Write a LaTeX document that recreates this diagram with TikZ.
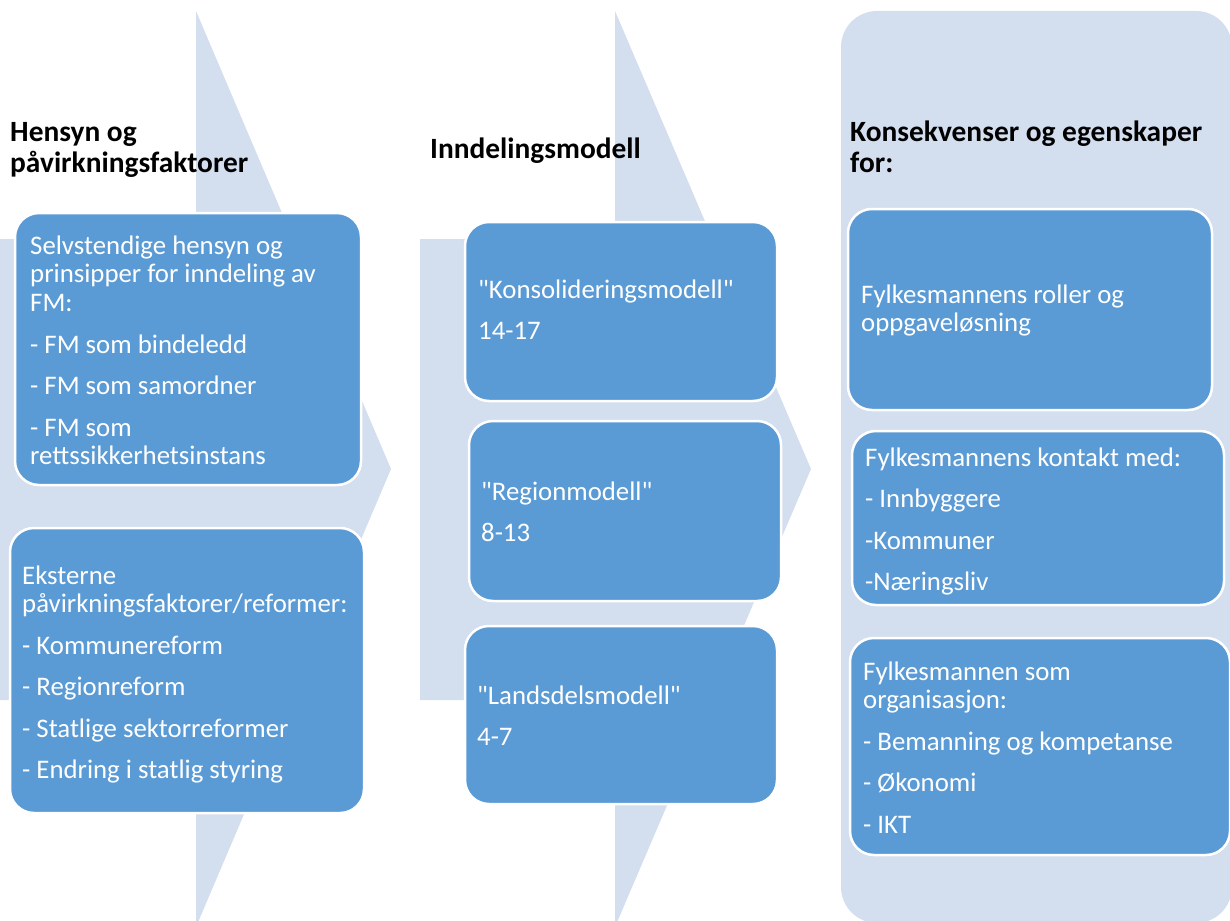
\documentclass[tikz,border=0pt]{standalone}
\usepackage{fontspec}
\setmainfont{Carlito}[Ligatures=TeXOff]
\definecolor{lite}{RGB}{211,222,239}
\definecolor{boxblue}{RGB}{91,155,213}
\newcommand\bs{\rule{0pt}{22pt}}
\newcommand\ts{\rule{0pt}{24pt}}
\tikzset{
  box/.style={draw=white, line width=2.5pt, fill=boxblue, rounded corners=24pt, inner sep=0pt},
  txt/.style={text=white, font=\fontsize{26.8}{28.7}\selectfont, align=left, inner sep=0pt, anchor=north west},
  ttl/.style={text=black, font=\bfseries\fontsize{29.4}{31}\selectfont, align=left, inner sep=0pt, anchor=north west},
}
\begin{document}
\begin{tikzpicture}[x=1pt,y=-1pt]
\useasboundingbox (0,0) rectangle (1230,920);
% background shapes
\fill[lite] (0,239) -- (196,239) -- (196,11) -- (391,469) -- (196,927) -- (196,700) -- (0,700) -- cycle;
\fill[lite] (420,239) -- (615,239) -- (615,11) -- (811,469) -- (615,927) -- (615,700) -- (420,700) -- cycle;
\fill[lite, rounded corners=36pt] (841,11) rectangle (1232,923);
% titles
\node[ttl] (t1) at (10,117) {\ts Hensyn og\\påvirkningsfaktorer};
\node[ttl] (t2) at (430,134) {\ts Inndelingsmodell};
\node[ttl] (t3) at (850,117) {\ts Konsekvenser og egenskaper\\for:};
% boxes
\node[box, minimum width=346pt, minimum height=272pt] (bA) at (188,349) {};
\node[box, minimum width=354pt, minimum height=285pt] (bB) at (187,670.5) {};
\node[box, minimum width=312pt, minimum height=179pt] (bC) at (621,311.5) {};
\node[box, minimum width=312pt, minimum height=180pt] (bD) at (625,511) {};
\node[box, minimum width=312pt, minimum height=178pt] (bE) at (621,715) {};
\node[box, minimum width=364pt, minimum height=201pt] (bF) at (1030,309.5) {};
\node[box, minimum width=372pt, minimum height=174pt] (bG) at (1038,518) {};
\node[box, minimum width=380pt, minimum height=217pt] (bH) at (1040,746.5) {};
% texts
\node[txt] (xA) at (30,232) {\bs Selvstendige hensyn og\\prinsipper for inndeling av\\FM:\\[12.8pt]- FM som bindeledd\\[12.8pt]- FM som samordner\\[12.8pt]- FM som\\rettssikkerhetsinstans};
\node[txt] (xB) at (22,562) {\bs Eksterne\\påvirkningsfaktorer/reformer:\\[12.8pt]- Kommunereform\\[12.8pt]- Regionreform\\[12.8pt]- Statlige sektorreformer\\[12.8pt]- Endring i statlig styring};
\node[txt] (xC) at (478,276) {\bs "Konsolideringsmodell"\\[12.8pt]14-17};
\node[txt] (xD) at (481,478) {\bs "Regionmodell"\\[12.8pt]8-13};
\node[txt] (xE) at (477,682) {\bs "Landsdelsmodell"\\[12.8pt]4-7};
\node[txt] (xF) at (861,281) {\bs Fylkesmannens roller og\\oppgaveløsning};
\node[txt] (xG) at (865,444) {\bs Fylkesmannens kontakt med:\\[12.8pt]- Innbyggere\\[12.8pt]-Kommuner\\[12.8pt]-Næringsliv};
\node[txt] (xH) at (863,658) {\bs Fylkesmannen som\\organisasjon:\\[12.8pt]- Bemanning og kompetanse\\[12.8pt]- Økonomi\\[12.8pt]- IKT};
\end{tikzpicture}
\end{document}
